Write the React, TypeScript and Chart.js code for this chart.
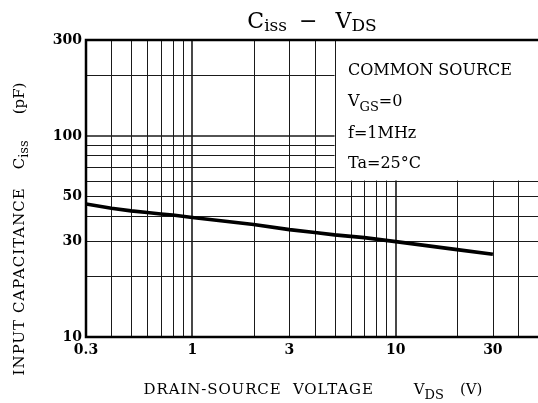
import React, { useEffect, useRef } from "react";
import { Chart, registerables } from "chart.js";

Chart.register(...registerables);

// ---- data ----
const vdsValues = [0.3, 0.4, 0.5, 0.6, 0.7, 0.8, 1, 2, 3, 4, 5, 7, 10, 20, 30];
const cissValues = [45.9, 43.7, 42.4, 41.6, 40.9, 40.4, 39.3, 36.3, 34.2, 33.1, 32.2, 31.2, 29.8, 27.2, 25.8];
const xTickValues = [0.3, 1, 3, 10, 30];
const yTickValues = [10, 30, 50, 100, 300];
const xMin = 0.3;
const xMax = 50;
const yMin = 10;
const yMax = 300;
const xGridFull = [0.4, 0.5, 0.6, 0.7, 0.8, 0.9, 1, 2, 3, 4, 5];
const xGridLower = [6, 7, 8, 9, 10, 20, 30, 40];
const yGridFull = [20, 30, 40, 50, 60];
const yGridLeft = [70, 80, 90, 100, 200];
const boxCornerX = 5;
const boxCornerY = 60;
const heavyX = [1, 10];
const heavyY = [100];

const FONT = '"DejaVu Serif", "Liberation Serif", serif';

type Part = { text: string; size: number; dy?: number; gap?: number; weight?: string; spacing?: number };

function partsWidth(ctx: CanvasRenderingContext2D, parts: Part[]) {
  let w = 0;
  for (const p of parts) {
    ctx.font = `${p.weight || "normal"} ${p.size}px ${FONT}`;
    (ctx as any).letterSpacing = `${p.spacing || 0}px`;
    w += (p.gap || 0) + ctx.measureText(p.text).width;
  }
  return w;
}

function drawParts(ctx: CanvasRenderingContext2D, parts: Part[], x: number, y: number, align: "left" | "center") {
  ctx.textAlign = "left";
  ctx.textBaseline = "alphabetic";
  let cx = align === "center" ? x - partsWidth(ctx, parts) / 2 : x;
  for (const p of parts) {
    ctx.font = `${p.weight || "normal"} ${p.size}px ${FONT}`;
    (ctx as any).letterSpacing = `${p.spacing || 0}px`;
    cx += p.gap || 0;
    ctx.fillText(p.text, cx, y + (p.dy || 0));
    cx += ctx.measureText(p.text).width;
  }
  (ctx as any).letterSpacing = "0px";
}

const gridPlugin = {
  id: "logGrid",
  beforeDatasetsDraw(chart: any) {
    const { ctx, chartArea, scales } = chart;
    const { left, right, top, bottom } = chartArea;
    const x = scales.x;
    const y = scales.y;
    const bx = x.getPixelForValue(boxCornerX);
    const by = y.getPixelForValue(boxCornerY);
    ctx.save();
    ctx.strokeStyle = "#1a1a1a";
    const vline = (v: number, y0: number, y1: number) => {
      const heavy = heavyX.includes(v);
      ctx.lineWidth = heavy ? 1.6 : 1;
      const px = Math.round(x.getPixelForValue(v)) + (heavy ? 0 : 0.5);
      ctx.beginPath();
      ctx.moveTo(px, y0);
      ctx.lineTo(px, y1);
      ctx.stroke();
    };
    const hline = (v: number, x0: number, x1: number) => {
      const heavy = heavyY.includes(v);
      ctx.lineWidth = heavy ? 1.6 : 1;
      const py = Math.round(y.getPixelForValue(v)) + (heavy ? 0 : 0.5);
      ctx.beginPath();
      ctx.moveTo(x0, py);
      ctx.lineTo(x1, py);
      ctx.stroke();
    };
    xGridFull.forEach((v) => vline(v, top, bottom));
    xGridLower.forEach((v) => vline(v, by, bottom));
    yGridFull.forEach((v) => hline(v, left, right));
    yGridLeft.forEach((v) => hline(v, left, bx));
    // frame
    ctx.strokeStyle = "#000";
    ctx.lineWidth = 2.5;
    ctx.beginPath();
    ctx.moveTo(right, bottom);
    ctx.lineTo(left, bottom);
    ctx.lineTo(left, top);
    ctx.lineTo(right, top);
    ctx.stroke();
    ctx.restore();
  },
};

const textPlugin = {
  id: "texts",
  afterDraw(chart: any) {
    const { ctx, chartArea } = chart;
    const { left, right } = chartArea;
    const cx = (left + right) / 2;
    ctx.save();
    ctx.fillStyle = "#000";
    // title
    drawParts(
      ctx,
      [
        { text: "C", size: 22 },
        { text: "iss", size: 17, dy: 3 },
        { text: "−", size: 22, gap: 12 },
        { text: "V", size: 22, gap: 18 },
        { text: "DS", size: 17, dy: 3 },
      ],
      cx,
      28,
      "center"
    );
    // x axis title
    drawParts(
      ctx,
      [
        { text: "DRAIN-SOURCE  VOLTAGE", size: 15, spacing: 0.9 },
        { text: "V", size: 15, gap: 40 },
        { text: "DS", size: 13, dy: 5 },
        { text: "(V)", size: 15, gap: 16 },
      ],
      cx + 1,
      394,
      "center"
    );
    // y axis title (rotated)
    ctx.save();
    ctx.translate(24, 229);
    ctx.rotate(-Math.PI / 2);
    drawParts(
      ctx,
      [
        { text: "INPUT CAPACITANCE", size: 15, spacing: 1 },
        { text: "C", size: 15, gap: 18 },
        { text: "iss", size: 13, dy: 4 },
        { text: "(pF)", size: 15, gap: 26 },
      ],
      0,
      0,
      "center"
    );
    ctx.restore();
    // conditions
    const tx = 348;
    drawParts(ctx, [{ text: "COMMON SOURCE", size: 16 }], tx, 75, "left");
    drawParts(
      ctx,
      [
        { text: "V", size: 16 },
        { text: "GS", size: 13, dy: 5 },
        { text: "=0", size: 16 },
      ],
      tx,
      106,
      "left"
    );
    drawParts(ctx, [{ text: "f=1MHz", size: 16 }], tx, 138, "left");
    drawParts(ctx, [{ text: "Ta=25°C", size: 16 }], tx, 168, "left");
    ctx.restore();
  },
};

export default function App() {
  const canvasRef = useRef<HTMLCanvasElement | null>(null);

  useEffect(() => {
    const canvas = canvasRef.current;
    if (!canvas) return;
    const chart = new Chart(canvas, {
      type: "line",
      data: {
        datasets: [
          {
            data: vdsValues.map((v, i) => ({ x: v, y: cissValues[i] })),
            borderColor: "#000",
            borderWidth: 3.6,
            pointRadius: 0,
            fill: false,
            tension: 0,
          },
        ],
      },
      options: {
        responsive: false,
        animation: false,
        events: [],
        layout: { padding: { top: 40, right: 0, left: 0, bottom: 0 } },
        plugins: { legend: { display: false }, tooltip: { enabled: false }, title: { display: false } },
        scales: {
          x: {
            type: "logarithmic",
            min: xMin,
            max: xMax,
            afterBuildTicks: (s: any) => {
              s.ticks = xTickValues.map((v) => ({ value: v }));
            },
            afterFit: (s: any) => {
              s.height = 66;
            },
            grid: { display: false, drawTicks: false },
            border: { display: false },
            ticks: {
              autoSkip: false,
              maxRotation: 0,
              padding: 5,
              color: "#000",
              font: { family: FONT, size: 14, weight: "bold" },
              callback: (v: any) => String(v),
            },
          },
          y: {
            type: "logarithmic",
            min: yMin,
            max: yMax,
            afterBuildTicks: (s: any) => {
              s.ticks = yTickValues.map((v) => ({ value: v }));
            },
            afterFit: (s: any) => {
              s.width = 86;
            },
            grid: { display: false, drawTicks: false },
            border: { display: false },
            ticks: {
              autoSkip: false,
              padding: 4,
              color: "#000",
              font: { family: FONT, size: 14, weight: "bold" },
              callback: (v: any) => String(v),
            },
          },
        },
      },
      plugins: [gridPlugin, textPlugin],
    } as any);
    return () => chart.destroy();
  }, []);

  return (
    <div style={{ position: "fixed", left: 0, top: 0, width: 538, height: 403, background: "#fff" }}>
      <canvas ref={canvasRef} width={538} height={403} style={{ display: "block", width: 538, height: 403 }} />
    </div>
  );
}
